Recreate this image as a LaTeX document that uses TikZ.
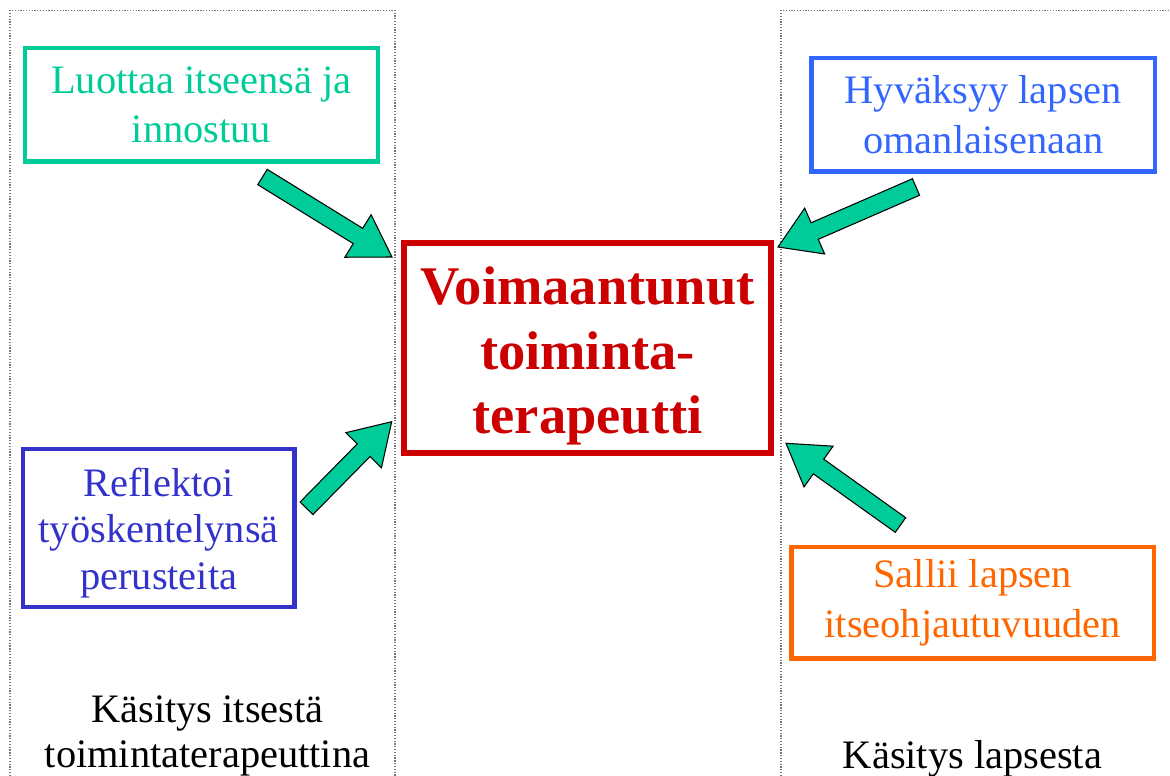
\documentclass[tikz,border=0pt]{standalone}
\usepackage{fontspec}
\setmainfont{Liberation Serif}
\usetikzlibrary{calc}
\definecolor{tgreen}{HTML}{00CC99}
\definecolor{tblue}{HTML}{3366FF}
\definecolor{tviolet}{HTML}{3333CC}
\definecolor{torange}{HTML}{FF6600}
\definecolor{tred}{HTML}{CC0000}
\definecolor{dotgray}{HTML}{777777}
\tikzset{
  box/.style={draw, line width=2.8pt, align=center, inner sep=0pt,
    font=\fontsize{23}{28.3}\selectfont},
  boxtext/.style={align=center, inner sep=0pt},
  centrebox/.style={draw, line width=3.4pt, inner sep=0pt},
  caption/.style={align=center, inner sep=0pt, font=\fontsize{23}{25.5}\selectfont},
  dotline/.style={dotgray, line width=0.6pt, dash pattern=on 0.7pt off 0.9pt},
  blockarrow/.style={fill=tgreen, draw=black, line width=0.6pt, line join=miter},
}
\newcommand\greenarrow[2]{%
  \coordinate (#1-hb) at ($(#2)!0.8cm!(#1)$);
  \draw[blockarrow]
    ($(#1)!0.18cm!90:(#2)$) -- ($(#1-hb)!0.18cm!90:(#2)$) --
    ($(#1-hb)!0.5cm!90:(#2)$) -- (#2) --
    ($(#1-hb)!0.5cm!-90:(#2)$) -- ($(#1-hb)!0.18cm!-90:(#2)$) --
    ($(#1)!0.18cm!-90:(#2)$) -- cycle;
}
\begin{document}
\begin{tikzpicture}[x=0.02cm, y=-0.02cm]
\useasboundingbox (0,0) rectangle (1170,776);
% dotted panels
\draw[dotline] (10,776) -- (10,10.5) -- (395,10.5) -- (395,776);
\draw[dotline] (781,776) -- (781,10.5) -- (1170,10.5);
% boxes
\node[box, tgreen, minimum width=7.06cm, minimum height=2.27cm] (trust) at (201.5,104.75)
  {Luottaa itseensä ja\\innostuu};
\node[box, tblue, minimum width=6.87cm, minimum height=2.27cm] (accept) at (983.3,114.75)
  {Hyväksyy lapsen\\omanlaisenaan};
\node[box, tviolet, minimum width=5.43cm, minimum height=3.16cm] (reflect) at (158.75,528) {};
\node[boxtext, tviolet, font=\fontsize{23}{26.4}\selectfont] (reflecttext) at (158.75,533)
  {Reflektoi\\työskentelynsä\\perusteita};
\node[box, torange, minimum width=7.25cm, minimum height=2.23cm] (allow) at (972.75,602.75)
  {Sallii lapsen\\itseohjautuvuuden};
\node[centrebox, tred, minimum width=7.34cm, minimum height=4.2cm] (centre) at (587.5,348) {};
\node[boxtext, tred, font=\fontsize{31}{36.8}\selectfont\bfseries] (centretext) at (587.5,356)
  {Voimaantunut\\toiminta-\\terapeutti};
% captions
\node[caption] (selfview) at (207.5,736) {Käsitys itsestä\\toimintaterapeuttina};
\node[caption, anchor=base] (childview) at (972.5,768.3) {Käsitys lapsesta};
% arrows
\coordinate (a1) at (262.5,177);   \coordinate (a1t) at (392,257);
\coordinate (a2) at (916,187);     \coordinate (a2t) at (778,247);
\coordinate (a3) at (306.5,508.3); \coordinate (a3t) at (391.7,421.7);
\coordinate (a4) at (900.5,525);   \coordinate (a4t) at (786,443.3);
\greenarrow{a1}{a1t}
\greenarrow{a2}{a2t}
\greenarrow{a3}{a3t}
\greenarrow{a4}{a4t}
\end{tikzpicture}
\end{document}
